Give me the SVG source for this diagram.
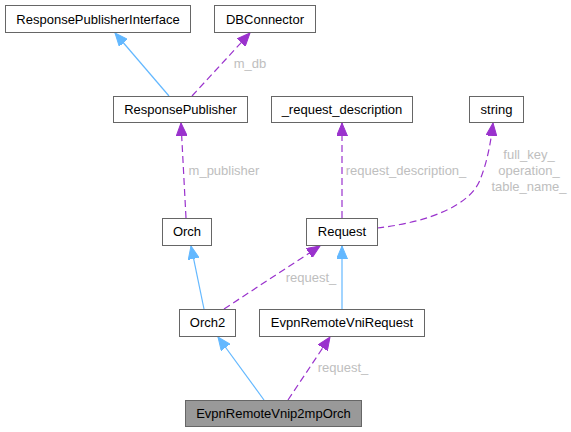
<svg xmlns="http://www.w3.org/2000/svg" width="571" height="432" viewBox="0 0 571 432">
<style>
.node rect{fill:#ffffff;stroke:#666666;stroke-width:1}
.root rect{fill:#999999}
.node text{font-family:"Liberation Sans",Arial,sans-serif;font-size:13px;fill:#000000;text-anchor:middle}
.inh{fill:none;stroke:#63b8ff;stroke-width:1.2}
.use{fill:none;stroke:#9a32cd;stroke-width:1.2;stroke-dasharray:7,4}
.lbl{font-family:"Liberation Sans",Arial,sans-serif;font-size:13px;fill:#bebebe;text-anchor:middle}
</style>
<defs>
<marker id="ab" markerUnits="userSpaceOnUse" markerWidth="14" markerHeight="11" refX="13" refY="5.5" orient="auto"><path d="M0,0 L13,5.5 L0,11 z" fill="#63b8ff" stroke="#63b8ff"/></marker>
<marker id="ap" markerUnits="userSpaceOnUse" markerWidth="14" markerHeight="11" refX="13" refY="5.5" orient="auto"><path d="M0,0 L13,5.5 L0,11 z" fill="#9a32cd" stroke="#9a32cd"/></marker>
</defs>
<g id="connectors">
<path class="inh" d="M169,96 L115,33" marker-end="url(#ab)"/>
<path class="use" d="M192,96 L250,33" marker-end="url(#ap)"/>
<text class="lbl" x="250" y="68">m_db</text>
<path class="use" d="M186,218 L181,123" marker-end="url(#ap)"/>
<text class="lbl" x="224" y="175">m_publisher</text>
<path class="use" d="M342,218 L342,123" marker-end="url(#ap)"/>
<text class="lbl" x="406" y="175">request_description_</text>
<path class="use" d="M377,228 C430,222 470,205 480,180 C488,160 491,140 493,123" marker-end="url(#ap)"/>
<text class="lbl" x="529" y="159">full_key_</text>
<text class="lbl" x="529" y="175">operation_</text>
<text class="lbl" x="529" y="191">table_name_</text>
<path class="inh" d="M204,309 L191,246" marker-end="url(#ab)"/>
<path class="use" d="M224,309 L320,246" marker-end="url(#ap)"/>
<text class="lbl" x="311" y="282">request_</text>
<path class="inh" d="M342,309 L342,246" marker-end="url(#ab)"/>
<path class="inh" d="M264,400 L218,337" marker-end="url(#ab)"/>
<path class="use" d="M288,400 L330,337" marker-end="url(#ap)"/>
<text class="lbl" x="343" y="372">request_</text>
</g>
<g id="ResponsePublisherInterface" class="node"><rect x="5.5" y="5.5" width="185" height="27"/><text x="98" y="23.5">ResponsePublisherInterface</text></g>
<g id="DBConnector" class="node"><rect x="214.5" y="5.5" width="101" height="27"/><text x="265" y="23.5">DBConnector</text></g>
<g id="ResponsePublisher" class="node"><rect x="113.5" y="96.5" width="134" height="26"/><text x="180.5" y="114">ResponsePublisher</text></g>
<g id="_request_description" class="node"><rect x="271.5" y="96.5" width="141" height="26"/><text x="342" y="114">_request_description</text></g>
<g id="string" class="node"><rect x="469.5" y="96.5" width="54" height="26"/><text x="496.5" y="114">string</text></g>
<g id="Orch" class="node"><rect x="162.5" y="218.5" width="49" height="27"/><text x="187" y="236">Orch</text></g>
<g id="Request" class="node"><rect x="306.5" y="218.5" width="71" height="27"/><text x="342" y="236">Request</text></g>
<g id="Orch2" class="node"><rect x="179.5" y="309.5" width="56" height="27"/><text x="207.5" y="327">Orch2</text></g>
<g id="EvpnRemoteVniRequest" class="node"><rect x="259.5" y="309.5" width="165" height="27"/><text x="342" y="327">EvpnRemoteVniRequest</text></g>
<g id="EvpnRemoteVnip2mpOrch" class="node root"><rect x="185.5" y="400.5" width="176" height="26"/><text x="273.5" y="418">EvpnRemoteVnip2mpOrch</text></g>
</svg>
